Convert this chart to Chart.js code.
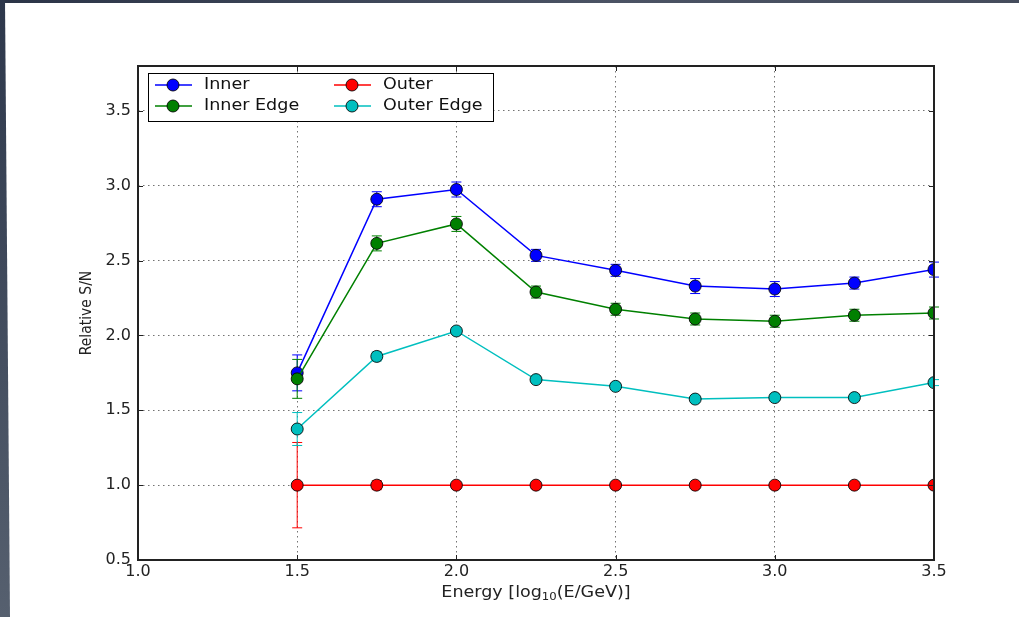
<!DOCTYPE html>
<html>
<head>
<meta charset="utf-8">
<script src="https://cdn.jsdelivr.net/npm/chart.js@4"></script>
<style>
  html, body { margin: 0; padding: 0; background: #fff; overflow: hidden; }
  #wrap { position: relative; width: 1019px; height: 617px; }
  .band-top { position: absolute; left: 0; top: 0; width: 1019px; height: 3px;
    background: linear-gradient(90deg, #2b3447, #4b5364 60%, #454c5c); }
  .band-left { position: absolute; left: 0; top: 0; width: 11px; height: 617px;
    background: linear-gradient(180deg, #2d374b, #56606f);
    clip-path: polygon(0 0, 5px 0, 10px 100%, 0 100%); }
  canvas { position: absolute; left: 0; top: 0; }
</style>
</head>
<body>
<div id="wrap">
  <div class="band-top"></div>
  <div class="band-left"></div>
  <canvas id="chart" width="1019" height="617"></canvas>
</div>
<script>
// energia en log10(E/GeV)
const energias = [1.5, 1.75, 2.0, 2.25, 2.5, 2.75, 3.0, 3.25, 3.5];

const inner      = [1.75, 2.91, 2.975, 2.535, 2.435, 2.33, 2.31, 2.35, 2.44];
const innerErr   = [0.12, 0.05, 0.05, 0.04, 0.04, 0.05, 0.05, 0.04, 0.05];
const innerEdge    = [1.71, 2.615, 2.745, 2.29, 2.175, 2.11, 2.095, 2.135, 2.15];
const innerEdgeErr = [0.13, 0.05, 0.05, 0.04, 0.04, 0.04, 0.04, 0.04, 0.04];
const outer      = [1.0, 1.0, 1.0, 1.0, 1.0, 1.0, 1.0, 1.0, 1.0];
const outerErr   = [0.285, 0.03, 0, 0, 0, 0, 0, 0, 0];
const outerEdge    = [1.375, 1.86, 2.03, 1.705, 1.66, 1.575, 1.585, 1.585, 1.685];
const outerEdgeErr = [0.11, 0.03, 0.02, 0.02, 0.02, 0.02, 0.02, 0.02, 0.02];

const xTicks = [1.0, 1.5, 2.0, 2.5, 3.0, 3.5];
const yTicks = [0.5, 1.0, 1.5, 2.0, 2.5, 3.0, 3.5];

const series = [
  { label: 'Inner', values: inner, errs: innerErr, color: '#0000ff' },
  { label: 'Inner Edge', values: innerEdge, errs: innerEdgeErr, color: '#008000' },
  { label: 'Outer', values: outer, errs: outerErr, color: '#ff0000' },
  { label: 'Outer Edge', values: outerEdge, errs: outerEdgeErr, color: '#00bfbf' }
];

const FONT = "'DejaVu Sans', 'Noto Sans', sans-serif";
const COND = "'DejaVu Sans Condensed', 'Liberation Sans Narrow', " + FONT;

// texto ensanchado en horizontal (la captura original esta estirada)
function wideText(ctx, txt, x, y, sx) {
  ctx.save();
  ctx.translate(x, y);
  ctx.scale(sx, 1);
  ctx.fillText(txt, 0, 0);
  ctx.restore();
}

// barras de error, marco, ticks internos, leyenda y titulos
const extras = {
  id: 'extras',
  beforeDatasetsDraw(chart) {
    const ctx = chart.ctx;
    const xs = chart.scales.x, ys = chart.scales.y;
    ctx.save();
    ctx.lineWidth = 1;
    series.forEach(s => {
      ctx.strokeStyle = s.color;
      s.values.forEach((v, i) => {
        const e = s.errs[i];
        if (!e) return;
        const px = xs.getPixelForValue(energias[i]);
        const y1 = ys.getPixelForValue(v + e);
        const y2 = ys.getPixelForValue(v - e);
        ctx.beginPath();
        ctx.moveTo(px, y1); ctx.lineTo(px, y2);
        ctx.moveTo(px - 5, y1); ctx.lineTo(px + 5, y1);
        ctx.moveTo(px - 5, y2); ctx.lineTo(px + 5, y2);
        ctx.stroke();
      });
    });
    ctx.restore();
  },
  afterDraw(chart) {
    const ctx = chart.ctx;
    const a = chart.chartArea;
    const xs = chart.scales.x, ys = chart.scales.y;
    ctx.save();

    // ticks hacia dentro
    ctx.strokeStyle = '#222';
    ctx.lineWidth = 1;
    ctx.beginPath();
    xTicks.forEach(v => {
      const p = Math.round(xs.getPixelForValue(v)) + 0.5;
      ctx.moveTo(p, a.top); ctx.lineTo(p, a.top + 5);
      ctx.moveTo(p, a.bottom); ctx.lineTo(p, a.bottom - 5);
    });
    yTicks.forEach(v => {
      const p = Math.round(ys.getPixelForValue(v)) + 0.5;
      ctx.moveTo(a.left, p); ctx.lineTo(a.left + 5, p);
      ctx.moveTo(a.right, p); ctx.lineTo(a.right - 5, p);
    });
    ctx.stroke();

    // marco
    ctx.strokeStyle = '#222';
    ctx.lineWidth = 2;
    ctx.strokeRect(a.left, a.top, a.right - a.left, a.bottom - a.top);

    // leyenda
    const lx = 148, ly = 73, lw = 345, lh = 48;
    ctx.fillStyle = '#fff';
    ctx.fillRect(lx, ly, lw, lh);
    ctx.strokeStyle = '#000';
    ctx.lineWidth = 1;
    ctx.strokeRect(lx + 0.5, ly + 0.5, lw, lh);
    const slots = [
      { s: series[0], x: 155, y: 85 },
      { s: series[1], x: 155, y: 106 },
      { s: series[2], x: 334, y: 85 },
      { s: series[3], x: 334, y: 106 }
    ];
    ctx.font = '15px ' + FONT;
    ctx.textBaseline = 'middle';
    ctx.textAlign = 'left';
    slots.forEach(o => {
      ctx.strokeStyle = o.s.color;
      ctx.lineWidth = 1.5;
      ctx.beginPath();
      ctx.moveTo(o.x, o.y); ctx.lineTo(o.x + 37, o.y);
      ctx.stroke();
      ctx.beginPath();
      ctx.arc(o.x + 18, o.y, 6, 0, Math.PI * 2);
      ctx.fillStyle = o.s.color;
      ctx.fill();
      ctx.strokeStyle = 'rgba(0,0,0,0.85)';
      ctx.lineWidth = 1;
      ctx.stroke();
      ctx.fillStyle = '#111';
      wideText(ctx, o.s.label, o.x + 49, o.y, 1.17);
    });

    // titulo eje x con subindice
    ctx.fillStyle = '#222';
    ctx.textBaseline = 'alphabetic';
    const sx = 1.3;
    const fx = '15px ' + COND;
    const fs = '10px ' + COND;
    const p1 = 'Energy [log', p2 = '10', p3 = '(E/GeV)]';
    ctx.font = fx; const w1 = ctx.measureText(p1).width * sx, w3 = ctx.measureText(p3).width * sx;
    ctx.font = fs; const w2 = ctx.measureText(p2).width * sx;
    const cx = (a.left + a.right) / 2;
    let tx = cx - (w1 + w2 + w3) / 2;
    const by = 597;
    ctx.font = fx; wideText(ctx, p1, tx, by, sx); tx += w1;
    ctx.font = fs; wideText(ctx, p2, tx, by + 3, sx); tx += w2;
    ctx.font = fx; wideText(ctx, p3, tx, by, sx);

    // titulo eje y
    ctx.translate(87, (a.top + a.bottom) / 2 + 0);
    ctx.rotate(-Math.PI / 2);
    ctx.textAlign = 'center';
    ctx.textBaseline = 'middle';
    ctx.font = '15.5px ' + COND;
    ctx.fillText('Relative S/N', 0, 0);
    ctx.restore();
  }
};

const ctx = document.getElementById('chart').getContext('2d');
new Chart(ctx, {
  type: 'line',
  data: {
    datasets: series.map((s, k) => ({
      label: s.label,
      data: energias.map((e, i) => ({ x: e, y: s.values[i] })),
      borderColor: s.color,
      backgroundColor: s.color,
      pointBackgroundColor: s.color,
      pointBorderColor: 'rgba(0,0,0,0.85)',
      pointBorderWidth: 1,
      pointRadius: 6,
      borderWidth: 1.5,
      tension: 0,
      order: 4 - k
    }))
  },
  options: {
    responsive: false,
    animation: false,
    devicePixelRatio: 1,
    layout: { padding: { top: 66, right: 85, left: 0, bottom: 0 } },
    plugins: { legend: { display: false }, tooltip: { enabled: false } },
    scales: {
      x: {
        type: 'linear',
        min: 1.0, max: 3.5,
        afterBuildTicks: sc => { sc.ticks = xTicks.map(v => ({ value: v })); },
        afterFit: sc => { sc.height = 57; },
        ticks: {
          padding: 2,
          color: '#222',
          font: { family: FONT, size: 16 },
          maxRotation: 0,
          callback: v => Number(v).toFixed(1)
        },
        grid: { color: 'rgba(0,0,0,0.55)', lineWidth: 1, drawTicks: false },
        border: { display: false, dash: [1.5, 3.5] }
      },
      y: {
        type: 'linear',
        min: 0.5, max: 3.8,
        afterBuildTicks: sc => { sc.ticks = yTicks.map(v => ({ value: v })); },
        afterFit: sc => { sc.width = 138; },
        ticks: {
          padding: 7,
          color: '#222',
          font: { family: FONT, size: 16 },
          callback: v => Number(v).toFixed(1)
        },
        grid: { color: 'rgba(0,0,0,0.55)', lineWidth: 1, drawTicks: false },
        border: { display: false, dash: [1.5, 3.5] }
      }
    }
  },
  plugins: [extras]
});
</script>
</body>
</html>
